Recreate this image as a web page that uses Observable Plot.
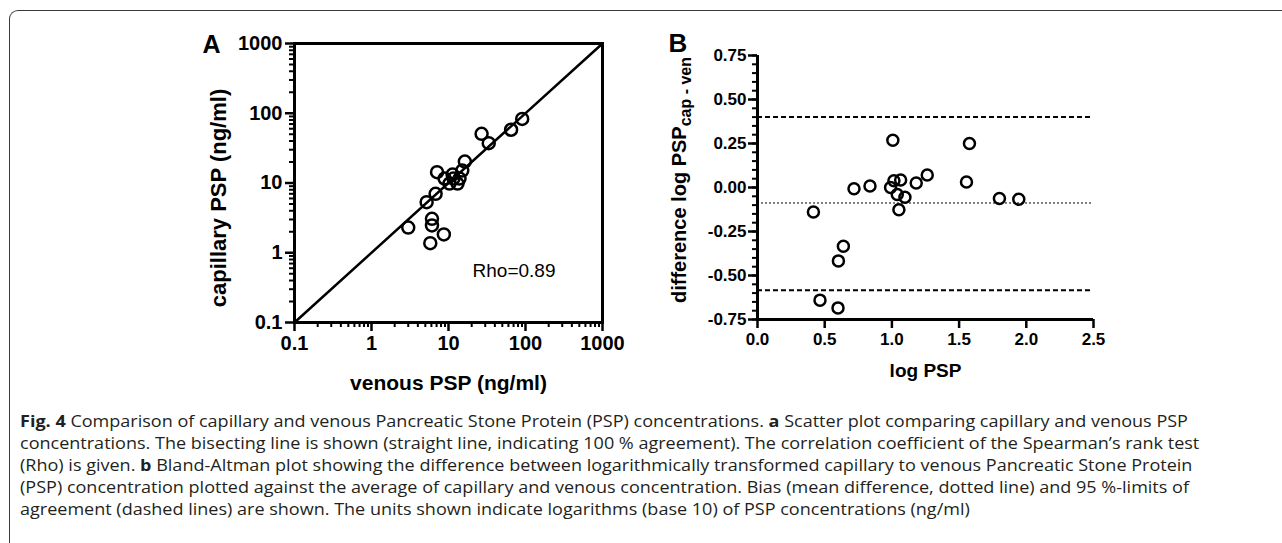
<!DOCTYPE html>
<html><head><meta charset="utf-8">
<script src="https://cdn.jsdelivr.net/npm/d3@7"></script>
<script src="https://cdn.jsdelivr.net/npm/@observablehq/plot@0.6"></script>
<style>
html,body{margin:0;padding:0;background:#fff;}
#root{position:relative;width:1282px;height:543px;overflow:hidden;background:#fff;}
#frame{position:absolute;left:9px;top:10px;width:1320px;height:600px;border-left:1.6px solid #3a3a3a;border-top:1.6px solid #3a3a3a;border-top-left-radius:9px;box-sizing:border-box;}
#pa{position:absolute;left:180px;top:20px;}
#pb{position:absolute;left:620px;top:20px;}
#cap{position:absolute;left:20px;top:410px;font-family:"Open Sans",sans-serif;font-size:15.5px;line-height:22.1px;color:#231f20;white-space:nowrap;transform-origin:0 0;}
#cap b{font-weight:700;}
.ln{display:block;}
.ln span{display:inline-block;}
</style></head><body>
<div id="root">
  <div id="frame"></div>
  <div id="pa"></div>
  <div id="pb"></div>
  <div id="cap">
    <div class="ln"><span id="l1"><b>Fig. 4</b> Comparison of capillary and venous Pancreatic Stone Protein (PSP) concentrations. <b>a</b> Scatter plot comparing capillary and venous PSP</span></div>
    <div class="ln"><span>concentrations. The bisecting line is shown (straight line, indicating 100 % agreement). The correlation coefficient of the Spearman’s rank test</span></div>
    <div class="ln"><span>(Rho) is given. <b>b</b> Bland-Altman plot showing the difference between logarithmically transformed capillary to venous Pancreatic Stone Protein</span></div>
    <div class="ln"><span>(PSP) concentration plotted against the average of capillary and venous concentration. Bias (mean difference, dotted line) and 95 %-limits of</span></div>
    <div class="ln"><span>agreement (dashed lines) are shown. The units shown indicate logarithms (base 10) of PSP concentrations (ng/ml)</span></div>
  </div>
</div>
<script>
// ---------- Panel A data ----------
const venous    = [90.6, 65, 26.9, 33.3, 16.3, 15.1, 7.1, 8.9, 10.3, 11.6, 13.1, 13.9, 11.3, 6.8, 5.2, 3.0, 6.1, 6.1, 8.7, 5.8];
const capillary = [83, 58, 50.7, 37.2, 20.3, 15.1, 14.3, 11.6, 9.8, 11.6, 9.8, 11.6, 13.2, 7.0, 5.3, 2.3, 3.07, 2.46, 1.83, 1.37];
const logTicks = [0.1, 1, 10, 100, 1000];
const logTickLabels = ["0.1", "1", "10", "100", "1000"];
const bisector = [0.1, 1000];
const rhoText = "Rho=0.89";

// ---------- Panel B data ----------
const meanLog = [0.416, 0.465, 0.599, 0.602, 0.639, 0.718, 0.837, 1.007, 0.990, 1.015, 1.065, 1.040, 1.097, 1.052, 1.181, 1.263, 1.555, 1.577, 1.800, 1.944];
const diffLog = [-0.139, -0.640, -0.684, -0.417, -0.334, -0.007, 0.008, 0.268, 0.000, 0.038, 0.043, -0.040, -0.055, -0.126, 0.025, 0.071, 0.031, 0.250, -0.063, -0.067];
const bias = -0.088;
const loaUpper = 0.40;
const loaLower = -0.584;
const bXTicks = [0, 0.5, 1.0, 1.5, 2.0, 2.5];
const bXTickLabels = ["0.0", "0.5", "1.0", "1.5", "2.0", "2.5"];
const bYTicks = [0.75, 0.5, 0.25, 0, -0.25, -0.5, -0.75];
const bYTickLabels = ["0.75", "0.50", "0.25", "0.00", "-0.25", "-0.50", "-0.75"];

const minorLog = [];
for (const d of [0.1, 1, 10, 100]) for (let k = 2; k <= 9; k++) minorLog.push(+(d * k).toPrecision(3));
const bYMinor = d3.range(-0.75, 0.7501, 0.05).map(v => +v.toFixed(2));

const pointsA = venous.map((v, i) => ({venous: v, capillary: capillary[i]}));
const pointsB = meanLog.map((m, i) => ({mean: m, diff: diffLog[i]}));
const lineA = bisector.map(v => ({x: v, y: v}));
const labA = new Map(logTicks.map((t, i) => [t, logTickLabels[i]]));
const labBX = new Map(bXTicks.map((t, i) => [t, bXTickLabels[i]]));
const labBY = new Map(bYTicks.map((t, i) => [t, bYTickLabels[i]]));

const font = "'Liberation Sans', Arial, Helvetica, sans-serif";

const svgA = Plot.plot({
  width: 440, height: 380,
  marginLeft: 114, marginTop: 23, marginRight: 18, marginBottom: 78,
  x: {type: "log", domain: [0.1, 1000]},
  y: {type: "log", domain: [0.1, 1000]},
  style: {fontFamily: font, fontWeight: "bold", fontSize: "20px", color: "#000", background: "transparent", overflow: "visible"},
  marks: [
    Plot.axisX({ticks: minorLog, tickSize: 5, tickFormat: () => "", strokeWidth: 2, label: null}),
    Plot.axisX({ticks: logTicks, tickSize: 9, tickPadding: 4, tickFormat: d => labA.get(d), strokeWidth: 2.5, fontSize: 20, fontWeight: "bold", label: null}),
    Plot.axisY({ticks: minorLog, tickSize: 5, tickFormat: () => "", strokeWidth: 2, label: null}),
    Plot.axisY({ticks: logTicks, tickSize: 9, tickPadding: 3, tickFormat: d => labA.get(d), strokeWidth: 2.5, fontSize: 20, fontWeight: "bold", label: null}),
    Plot.frame({strokeWidth: 3}),
    Plot.line(lineA, {x: "x", y: "y", strokeWidth: 2.5}),
    Plot.dot(pointsA, {x: "venous", y: "capillary", r: 6, stroke: "black", strokeWidth: 2.5, fill: "none"}),
    Plot.text([rhoText], {frameAnchor: "bottom-right", textAnchor: "end", lineAnchor: "bottom", dx: -47, dy: -46, fontSize: 19, fontWeight: "normal"}),
    Plot.text(["venous PSP (ng/ml)"], {frameAnchor: "bottom", lineAnchor: "middle", dy: 61, fontSize: 21}),
    Plot.text(["capillary PSP (ng/ml)"], {frameAnchor: "left", rotate: -90, textAnchor: "middle", lineAnchor: "middle", dx: -76, dy: 15, fontSize: 22}),
    Plot.text(["A"], {frameAnchor: "top-left", textAnchor: "start", lineAnchor: "bottom", dx: -92, dy: 9, fontSize: 25})
  ]
});
document.getElementById("pa").appendChild(svgA);

const svgB = Plot.plot({
  width: 500, height: 380,
  marginLeft: 137, marginTop: 35, marginRight: 27, marginBottom: 81,
  x: {domain: [0, 2.5]},
  y: {domain: [-0.75, 0.75]},
  style: {fontFamily: font, fontWeight: "bold", fontSize: "17px", color: "#000", background: "transparent", overflow: "visible"},
  marks: [
    Plot.axisY({ticks: bYMinor, tickSize: 5, tickFormat: () => "", strokeWidth: 2, label: null}),
    Plot.axisY({ticks: bYTicks, tickSize: 9, tickPadding: 2, tickFormat: d => labBY.get(d), strokeWidth: 2.5, fontSize: 17, fontWeight: "bold", label: null}),
    Plot.axisX({ticks: bXTicks, tickSize: 9, tickPadding: 4, tickFormat: d => labBX.get(d), strokeWidth: 2.5, fontSize: 17, fontWeight: "bold", label: null}),
    Plot.ruleX([0], {strokeWidth: 3}),
    Plot.ruleY([-0.75], {strokeWidth: 3}),
    Plot.ruleY([loaUpper, loaLower], {strokeWidth: 2, strokeDasharray: "5,3"}),
    Plot.ruleY([bias], {strokeWidth: 1, strokeDasharray: "2,2"}),
    Plot.dot(pointsB, {x: "mean", y: "diff", r: 5.5, stroke: "black", strokeWidth: 2.5, fill: "none"}),
    Plot.text(["log PSP"], {frameAnchor: "bottom", lineAnchor: "middle", dy: 51, fontSize: 19}),
    Plot.text(["B"], {frameAnchor: "top-left", textAnchor: "start", lineAnchor: "bottom", dx: -89, dy: -4, fontSize: 26})
  ]
});
// y label with subscript
const yl = d3.select(svgB).append("text")
  .attr("transform", `translate(66,160) rotate(-90)`)
  .attr("text-anchor", "middle")
  .attr("font-family", font).attr("font-weight", "bold").attr("font-size", 20).attr("fill", "#000");
yl.append("tspan").text("difference log PSP");
yl.append("tspan").attr("dy", 5).attr("font-size", 16).text("cap - ven");
document.getElementById("pb").appendChild(svgB);

// fit caption width (compress horizontally to the reference line length)
const l1 = document.getElementById("l1");
const cap = document.getElementById("cap");
const w = l1.getBoundingClientRect().width;
cap.style.transform = `scaleX(${(1168 / w).toFixed(4)})`;
</script>
</body></html>
